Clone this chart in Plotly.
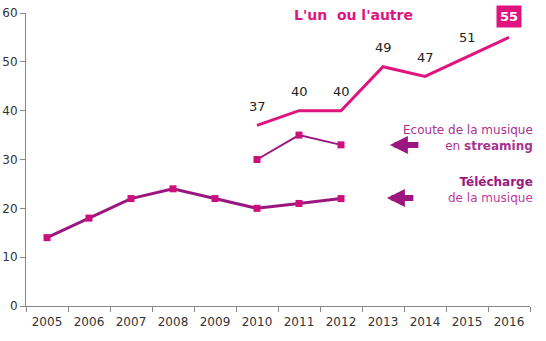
import plotly.graph_objects as go

years = ["2005", "2006", "2007", "2008", "2009", "2010", "2011", "2012", "2013", "2014", "2015", "2016"]
telecharge_years = ["2005", "2006", "2007", "2008", "2009", "2010", "2011", "2012"]
telecharge = [14, 18, 22, 24, 22, 20, 21, 22]
streaming_years = ["2010", "2011", "2012"]
streaming = [30, 35, 33]
either_years = ["2010", "2011", "2012", "2013", "2014", "2015", "2016"]
either = [37, 40, 40, 49, 47, 51, 55]
y_ticks = [0, 10, 20, 30, 40, 50, 60]

PURPLE = "#9b177f"
MAGENTA = "#cc0f7a"
PINK = "#e0147f"
FONT = "DejaVu Sans, Verdana, sans-serif"

fig = go.Figure()
fig.add_trace(go.Scatter(
    x=telecharge_years, y=telecharge, mode="lines+markers",
    line=dict(color=PURPLE, width=3),
    marker=dict(symbol="square", size=7, color=MAGENTA),
    hoverinfo="skip"))
fig.add_trace(go.Scatter(
    x=streaming_years, y=streaming, mode="lines+markers",
    line=dict(color=PURPLE, width=2),
    marker=dict(symbol="square", size=7, color=MAGENTA),
    hoverinfo="skip"))
fig.add_trace(go.Scatter(
    x=either_years, y=either, mode="lines",
    line=dict(color=PINK, width=3),
    hoverinfo="skip"))

annotations = []
for yr, v in zip(either_years[:-1], either[:-1]):
    annotations.append(dict(x=years.index(yr), y=v, text=str(v), showarrow=False,
                            yshift=19, font=dict(family=FONT, size=13, color="#222")))
annotations.append(dict(x=years.index(either_years[-1]), y=either[-1],
                        text="<b>" + str(either[-1]) + "</b>",
                        showarrow=False, yshift=21, bgcolor=PINK, borderpad=3,
                        font=dict(family=FONT, size=13, color="white")))
annotations.append(dict(x=0.65, y=1.0, xref="paper", yref="paper", text="<b>L'un  ou l'autre</b>",
                        showarrow=False, yanchor="middle", yshift=-2,
                        font=dict(family=FONT, size=14, color=PINK)))
annotations.append(dict(x=1.01, y=0.575, xref="paper", yref="paper", xanchor="right",
                        align="right", showarrow=False,
                        text="Ecoute de la musique<br>en <b>streaming</b>",
                        font=dict(family=FONT, size=12, color="#a8338f")))
annotations.append(dict(x=1.01, y=0.395, xref="paper", yref="paper", xanchor="right",
                        align="right", showarrow=False,
                        text="<b><span style='color:#9b177f'>Télécharge</span></b><br>de la musique",
                        font=dict(family=FONT, size=12, color="#c03a98")))
# arrows
annotations.append(dict(x=0.722, y=(306 - 145) / 293, xref="paper", yref="paper",
                        ax=30, ay=0, showarrow=True, arrowhead=2, arrowsize=0.6,
                        arrowwidth=6, arrowcolor=PURPLE, text=""))
annotations.append(dict(x=0.716, y=(306 - 198) / 293, xref="paper", yref="paper",
                        ax=28, ay=0, showarrow=True, arrowhead=2, arrowsize=0.6,
                        arrowwidth=6, arrowcolor=PURPLE, text=""))

fig.update_layout(
    width=546, height=341,
    margin=dict(l=26, r=16, t=13, b=35),
    paper_bgcolor="white", plot_bgcolor="white",
    showlegend=False,
    annotations=annotations,
    xaxis=dict(type="category", categoryorder="array", categoryarray=years,
               range=[-0.5, 11.5], tickson="boundaries", ticks="outside", ticklen=5,
               ticklabelstandoff=5,
               showline=True, linecolor="#888", linewidth=1, tickcolor="#888",
               showgrid=False, zeroline=False, automargin=False,
               tickfont=dict(family=FONT, size=12, color="#333")),
    yaxis=dict(range=[0, 60], tickvals=y_ticks, ticks="outside", ticklen=5,
               showline=True, linecolor="#888", linewidth=1, tickcolor="#888",
               showgrid=False, zeroline=False, automargin=False,
               tickfont=dict(family=FONT, size=12, color="#333")),
)
fig.write_html("out.html")
